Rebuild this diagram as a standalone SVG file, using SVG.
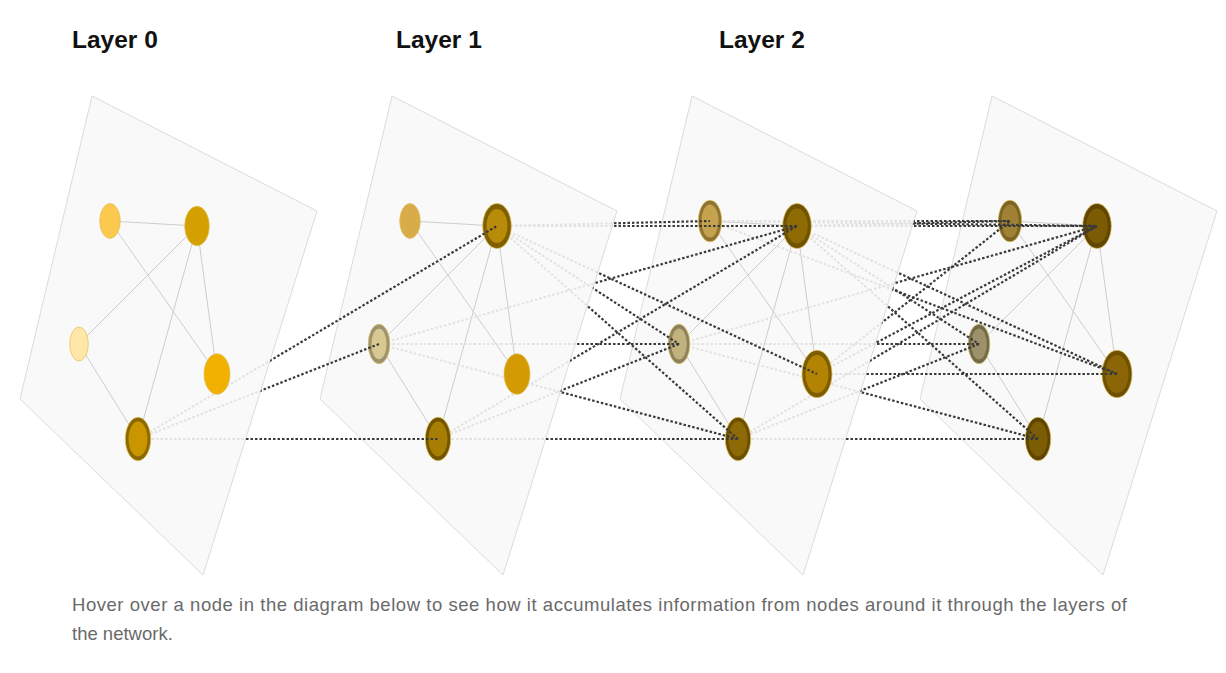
<svg xmlns="http://www.w3.org/2000/svg" width="1226" height="673" viewBox="0 0 1226 673">
<style>
.panel{fill:#f9f9f9;stroke:#d2d2d2;stroke-width:0.8}
.edge{stroke:#cdcdcd;stroke-width:1}
.lt{stroke:#e2e2e2;stroke-width:2;stroke-dasharray:2.5 2;fill:none}
.dk{stroke:#3a3a3a;stroke-width:2.2;stroke-dasharray:2.5 2;fill:none}
.nd{stroke:#e0bf55;stroke-width:0.7}
.h{font-family:"Liberation Sans",Arial,sans-serif;font-weight:bold;font-size:24.5px;fill:#111}
.cap{font-family:"Liberation Sans",Arial,sans-serif;font-size:18.5px;fill:#6a6a6a}
</style>
<defs>
<clipPath id="c0"><polygon points="92,96 317,211 203,575 20,399"/></clipPath>
<clipPath id="c1"><polygon points="392,96 617,211 503,575 320,399"/></clipPath>
<clipPath id="c2"><polygon points="692,96 917,211 803,575 620,399"/></clipPath>
<mask id="m0" maskUnits="userSpaceOnUse" x="0" y="0" width="1226" height="673"><rect width="1226" height="673" fill="#fff"/><polygon points="92,96 317,211 203,575 20,399" fill="#000"/></mask>
<mask id="m1" maskUnits="userSpaceOnUse" x="0" y="0" width="1226" height="673"><rect width="1226" height="673" fill="#fff"/><polygon points="392,96 617,211 503,575 320,399" fill="#000"/></mask>
<mask id="m2" maskUnits="userSpaceOnUse" x="0" y="0" width="1226" height="673"><rect width="1226" height="673" fill="#fff"/><polygon points="692,96 917,211 803,575 620,399" fill="#000"/></mask>
</defs>
<rect width="1226" height="673" fill="#fff"/>
<text class="h" x="72" y="48">Layer 0</text>
<text class="h" x="396" y="48">Layer 1</text>
<text class="h" x="719" y="48">Layer 2</text>

<g id="layer0">
<polygon class="panel" points="92,96 317,211 203,575 20,399"/>
<line class="edge" x1="110" y1="221" x2="197" y2="226"/>
<line class="edge" x1="110" y1="221" x2="217" y2="374"/>
<line class="edge" x1="197" y1="226" x2="79" y2="344"/>
<line class="edge" x1="197" y1="226" x2="138" y2="439"/>
<line class="edge" x1="197" y1="226" x2="217" y2="374"/>
<line class="edge" x1="79" y1="344" x2="138" y2="439"/>
</g>
<g id="layer1">
<polygon class="panel" points="392,96 617,211 503,575 320,399"/>
<line class="edge" x1="410" y1="221" x2="497" y2="226"/>
<line class="edge" x1="410" y1="221" x2="517" y2="374"/>
<line class="edge" x1="497" y1="226" x2="379" y2="344"/>
<line class="edge" x1="497" y1="226" x2="438" y2="439"/>
<line class="edge" x1="497" y1="226" x2="517" y2="374"/>
<line class="edge" x1="379" y1="344" x2="438" y2="439"/>
</g>
<g id="layer2">
<polygon class="panel" points="692,96 917,211 803,575 620,399"/>
<line class="edge" x1="710" y1="221" x2="797" y2="226"/>
<line class="edge" x1="710" y1="221" x2="817" y2="374"/>
<line class="edge" x1="797" y1="226" x2="679" y2="344"/>
<line class="edge" x1="797" y1="226" x2="738" y2="439"/>
<line class="edge" x1="797" y1="226" x2="817" y2="374"/>
<line class="edge" x1="679" y1="344" x2="738" y2="439"/>
</g>
<g id="layer3">
<polygon class="panel" points="992,96 1217,211 1103,575 920,399"/>
<line class="edge" x1="1010" y1="221" x2="1097" y2="226"/>
<line class="edge" x1="1010" y1="221" x2="1117" y2="374"/>
<line class="edge" x1="1097" y1="226" x2="979" y2="344"/>
<line class="edge" x1="1097" y1="226" x2="1038" y2="439"/>
<line class="edge" x1="1097" y1="226" x2="1117" y2="374"/>
<line class="edge" x1="979" y1="344" x2="1038" y2="439"/>
</g>

<g id="connectors-faded">
<g clip-path="url(#c0)">
<line class="lt" x1="138" y1="439" x2="497" y2="226"/>
<line class="lt" x1="138" y1="439" x2="379" y2="344"/>
<line class="lt" x1="138" y1="439" x2="438" y2="439"/>
</g>
<g clip-path="url(#c1)">
<line class="lt" x1="497" y1="226" x2="710" y2="221"/>
<line class="lt" x1="497" y1="226" x2="797" y2="226"/>
<line class="lt" x1="497" y1="226" x2="679" y2="344"/>
<line class="lt" x1="497" y1="226" x2="817" y2="374"/>
<line class="lt" x1="497" y1="226" x2="738" y2="439"/>
<line class="lt" x1="379" y1="344" x2="797" y2="226"/>
<line class="lt" x1="379" y1="344" x2="679" y2="344"/>
<line class="lt" x1="379" y1="344" x2="738" y2="439"/>
<line class="lt" x1="438" y1="439" x2="797" y2="226"/>
<line class="lt" x1="438" y1="439" x2="679" y2="344"/>
<line class="lt" x1="438" y1="439" x2="738" y2="439"/>
</g>
<g clip-path="url(#c2)">
<line class="lt" x1="710" y1="221" x2="1010" y2="221"/>
<line class="lt" x1="710" y1="221" x2="1097" y2="226"/>
<line class="lt" x1="710" y1="221" x2="1117" y2="374"/>
<line class="lt" x1="797" y1="226" x2="1010" y2="221"/>
<line class="lt" x1="797" y1="226" x2="1097" y2="226"/>
<line class="lt" x1="797" y1="226" x2="979" y2="344"/>
<line class="lt" x1="797" y1="226" x2="1117" y2="374"/>
<line class="lt" x1="797" y1="226" x2="1038" y2="439"/>
<line class="lt" x1="679" y1="344" x2="1097" y2="226"/>
<line class="lt" x1="679" y1="344" x2="979" y2="344"/>
<line class="lt" x1="679" y1="344" x2="1038" y2="439"/>
<line class="lt" x1="817" y1="374" x2="1010" y2="221"/>
<line class="lt" x1="817" y1="374" x2="1097" y2="226"/>
<line class="lt" x1="817" y1="374" x2="1117" y2="374"/>
<line class="lt" x1="738" y1="439" x2="1097" y2="226"/>
<line class="lt" x1="738" y1="439" x2="979" y2="344"/>
<line class="lt" x1="738" y1="439" x2="1038" y2="439"/>
</g>
</g>

<g id="n0A"><ellipse class="nd" cx="110" cy="221" rx="10.3" ry="17.5" fill="#fcc94f"/></g>
<g id="n0B"><ellipse class="nd" cx="197" cy="226" rx="12.3" ry="19.7" fill="#d4a000"/></g>
<g id="n0C"><ellipse class="nd" cx="79" cy="344" rx="9.3" ry="17" fill="#fee7a9"/></g>
<g id="n0D"><ellipse class="nd" cx="217" cy="374" rx="13" ry="20.3" fill="#f2b000"/></g>
<g id="n0E"><ellipse class="nd" cx="138" cy="439" rx="12.7" ry="21.7" fill="#8b6900"/><ellipse cx="138" cy="439" rx="9.5" ry="17.5" fill="#c99600"/></g>

<g id="n1A"><ellipse class="nd" cx="410" cy="221" rx="10.3" ry="17.5" fill="#d9ac4a"/></g>
<g id="n1B"><ellipse class="nd" cx="497" cy="226" rx="14.3" ry="22.5" fill="#7f5f00"/><ellipse cx="497" cy="226" rx="10.5" ry="17" fill="#b88b08"/></g>
<g id="n1C"><ellipse class="nd" cx="379" cy="344" rx="10.8" ry="19.8" fill="#9c9271"/><ellipse cx="379" cy="344" rx="7.6" ry="15.2" fill="#d8c992"/></g>
<g id="n1D"><ellipse class="nd" cx="517" cy="374" rx="13" ry="20.3" fill="#d49a04"/></g>
<g id="n1E"><ellipse class="nd" cx="438" cy="439" rx="12.7" ry="21.7" fill="#725500"/><ellipse cx="438" cy="439" rx="9.5" ry="17.5" fill="#a87d04"/></g>

<g id="n2A"><ellipse class="nd" cx="710" cy="221" rx="11.7" ry="20.8" fill="#8e7332"/><ellipse cx="710" cy="221" rx="8.6" ry="16.5" fill="#c4a24e"/></g>
<g id="n2B"><ellipse class="nd" cx="797" cy="226" rx="14.3" ry="22.5" fill="#6f5300"/><ellipse cx="797" cy="226" rx="10.8" ry="17.5" fill="#8f6b06"/></g>
<g id="n2C"><ellipse class="nd" cx="679" cy="344" rx="10.8" ry="19.8" fill="#8b8160"/><ellipse cx="679" cy="344" rx="7.8" ry="15.5" fill="#c2b27c"/></g>
<g id="n2D"><ellipse class="nd" cx="817" cy="374" rx="15" ry="23.7" fill="#7e5c00"/><ellipse cx="817" cy="374" rx="11.5" ry="19" fill="#b38404"/></g>
<g id="n2E"><ellipse class="nd" cx="738" cy="439" rx="12.7" ry="21.7" fill="#6c5000"/><ellipse cx="738" cy="439" rx="9.5" ry="17.5" fill="#8e6a06"/></g>

<g id="n3A"><ellipse class="nd" cx="1010" cy="221" rx="11.7" ry="20.8" fill="#7d6426"/><ellipse cx="1010" cy="221" rx="8.6" ry="16.5" fill="#a08235"/></g>
<g id="n3B"><ellipse class="nd" cx="1097" cy="226" rx="14.3" ry="22.5" fill="#604600"/><ellipse cx="1097" cy="226" rx="10.8" ry="17.5" fill="#7b5b04"/></g>
<g id="n3C"><ellipse class="nd" cx="979" cy="344" rx="10.8" ry="19.8" fill="#6f6a4c"/><ellipse cx="979" cy="344" rx="7.8" ry="15.5" fill="#9d9169"/></g>
<g id="n3D"><ellipse class="nd" cx="1117" cy="374" rx="15" ry="23.7" fill="#6d5000"/><ellipse cx="1117" cy="374" rx="11.5" ry="19" fill="#8c6606"/></g>
<g id="n3E"><ellipse class="nd" cx="1038" cy="439" rx="12.7" ry="21.7" fill="#5e4500"/><ellipse cx="1038" cy="439" rx="9.5" ry="17.5" fill="#7c5c05"/></g>

<g id="connectors">
<g mask="url(#m0)">
<line class="dk" x1="138" y1="439" x2="497" y2="226"/>
<line class="dk" x1="138" y1="439" x2="379" y2="344"/>
<line class="dk" x1="138" y1="439" x2="438" y2="439"/>
</g>
<g mask="url(#m1)">
<line class="dk" x1="497" y1="226" x2="710" y2="221"/>
<line class="dk" x1="497" y1="226" x2="797" y2="226"/>
<line class="dk" x1="497" y1="226" x2="679" y2="344"/>
<line class="dk" x1="497" y1="226" x2="817" y2="374"/>
<line class="dk" x1="497" y1="226" x2="738" y2="439"/>
<line class="dk" x1="379" y1="344" x2="797" y2="226"/>
<line class="dk" x1="379" y1="344" x2="679" y2="344"/>
<line class="dk" x1="379" y1="344" x2="738" y2="439"/>
<line class="dk" x1="438" y1="439" x2="797" y2="226"/>
<line class="dk" x1="438" y1="439" x2="679" y2="344"/>
<line class="dk" x1="438" y1="439" x2="738" y2="439"/>
</g>
<g mask="url(#m2)">
<line class="dk" x1="710" y1="221" x2="1010" y2="221"/>
<line class="dk" x1="710" y1="221" x2="1097" y2="226"/>
<line class="dk" x1="710" y1="221" x2="1117" y2="374"/>
<line class="dk" x1="797" y1="226" x2="1010" y2="221"/>
<line class="dk" x1="797" y1="226" x2="1097" y2="226"/>
<line class="dk" x1="797" y1="226" x2="979" y2="344"/>
<line class="dk" x1="797" y1="226" x2="1117" y2="374"/>
<line class="dk" x1="797" y1="226" x2="1038" y2="439"/>
<line class="dk" x1="679" y1="344" x2="1097" y2="226"/>
<line class="dk" x1="679" y1="344" x2="979" y2="344"/>
<line class="dk" x1="679" y1="344" x2="1038" y2="439"/>
<line class="dk" x1="817" y1="374" x2="1010" y2="221"/>
<line class="dk" x1="817" y1="374" x2="1097" y2="226"/>
<line class="dk" x1="817" y1="374" x2="1117" y2="374"/>
<line class="dk" x1="738" y1="439" x2="1097" y2="226"/>
<line class="dk" x1="738" y1="439" x2="979" y2="344"/>
<line class="dk" x1="738" y1="439" x2="1038" y2="439"/>
</g>
</g>

<text class="cap" x="72" y="611" textLength="1055" lengthAdjust="spacing">Hover over a node in the diagram below to see how it accumulates information from nodes around it through the layers of</text>
<text class="cap" x="72" y="640">the network.</text>
</svg>
